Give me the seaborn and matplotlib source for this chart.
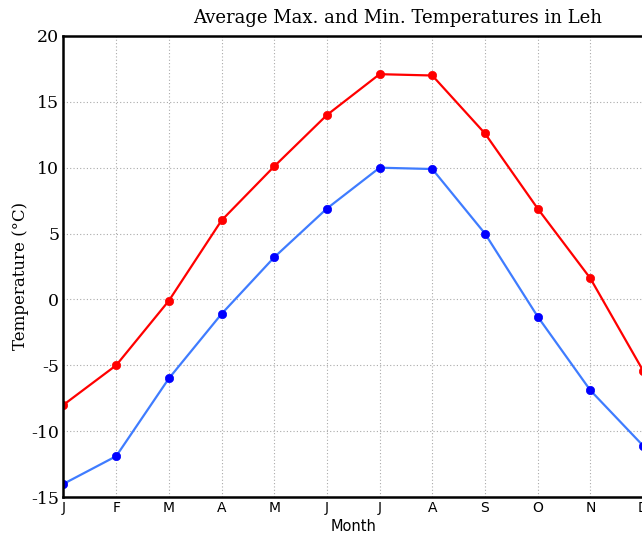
import matplotlib
matplotlib.use("Agg")
import matplotlib.pyplot as plt
import seaborn as sns
import pandas as pd

# Monthly averages for Leh (deg C)
months = ["J", "F", "M", "A", "M", "J", "J", "A", "S", "O", "N", "D"]
max_temp = [-8.0, -5.0, -0.1, 6.0, 10.1, 14.0, 17.1, 17.0, 12.6, 6.9, 1.6, -5.4]
min_temp = [-14.0, -11.9, -6.0, -1.1, 3.2, 6.9, 10.0, 9.9, 5.0, -1.3, -6.9, -11.1]
y_ticks = [-15, -10, -5, 0, 5, 10, 15, 20]

df = pd.DataFrame({"idx": range(len(months)), "max": max_temp, "min": min_temp})

sns.set_theme(style="white")
plt.rcParams["axes.unicode_minus"] = False
plt.rcParams["text.color"] = "black"
plt.rcParams["axes.labelcolor"] = "black"
plt.rcParams["xtick.color"] = "black"
plt.rcParams["ytick.color"] = "black"

fig = plt.figure(figsize=(6.42, 5.33), dpi=100)
ax = fig.add_axes([0.0989, 0.0675, 0.9027, 0.865])

# max temperatures - red line with red dots
sns.lineplot(data=df, x="idx", y="max", ax=ax, color="red", linewidth=1.6,
             marker="o", markersize=6, markerfacecolor="red",
             markeredgecolor="red", markeredgewidth=0.5)
# min temperatures - light blue line, blue dots
sns.lineplot(data=df, x="idx", y="min", ax=ax, color="#3f7cff", linewidth=1.6,
             marker="o", markersize=6, markerfacecolor="blue",
             markeredgecolor="blue", markeredgewidth=0.5)

ax.set_xlim(0, len(months) - 1)
ax.set_ylim(-15, 20)
ax.set_xticks(range(len(months)))
ax.set_xticklabels(months, fontfamily="DejaVu Sans", fontsize=10)
ax.set_yticks(y_ticks)
ax.set_yticklabels([str(t) for t in y_ticks], fontfamily="DejaVu Serif", fontsize=12.5)
ax.tick_params(length=0, pad=3)

ax.grid(True, linestyle=(0, (1, 2)), color="#aaaaaa", linewidth=0.8)
for side in ["left", "top", "bottom", "right"]:
    ax.spines[side].set_color("black")
    ax.spines[side].set_linewidth(1.8)

ax.set_xlabel("Month", fontfamily="DejaVu Sans", fontsize=10.5, labelpad=3)
ax.set_ylabel("Temperature (°C)", fontfamily="DejaVu Serif", fontsize=12)
ax.yaxis.set_label_coords(-0.06, 0.48)

fig.text(0.62, 0.967, "Average Max. and Min. Temperatures in Leh",
         ha="center", va="center", fontfamily="DejaVu Serif", fontsize=13)

fig.savefig("out.png", dpi=100)
